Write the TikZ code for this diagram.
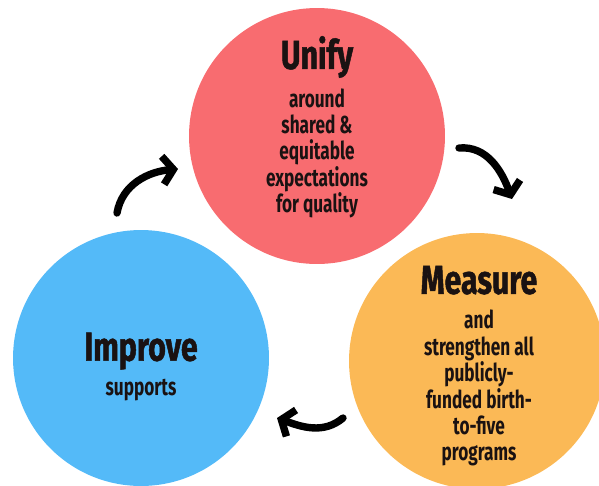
\documentclass[tikz,border=0pt]{standalone}
\usepackage{fontspec}
\usetikzlibrary{arrows.meta}
\newfontfamily\narrowfont{Fira Sans}[FakeStretch=0.7]
\newfontfamily\narrowtitlefont{Fira Sans}[FakeStretch=0.75,FakeBold=1.2]
\definecolor{unifyred}{HTML}{F86C70}
\definecolor{improveblue}{HTML}{54BAF8}
\definecolor{measureorange}{HTML}{FBB956}
\definecolor{inkdark}{HTML}{1A1212}
\newcommand{\bubbletitle}[1]{{\narrowtitlefont\bfseries\fontsize{23}{27}\selectfont #1}\\[5pt]}

\begin{document}
\begin{tikzpicture}[x=0.02cm,y=-0.02cm,
	bubble/.style={circle,inner sep=0,outer sep=0,minimum size=5.12cm},
	bubbletext/.style={align=center,inner sep=0,text=inkdark,
		font=\narrowfont\bfseries\fontsize{14}{15}\selectfont},
	cyclearrow/.style={line width=4.2pt,line cap=round,-{Straight Barb[length=6pt,width=16pt]}}]
	\useasboundingbox (0,0) rectangle (599,485);
	\node[bubble,fill=unifyred] (unify) at (317,136) {};
	\node[bubble,fill=measureorange] (measure) at (477,361) {};
	\node[bubble,fill=improveblue] (improve) at (141,358) {};
	\node[bubbletext] (unifytext) at (317,127) {\bubbletitle{Unify}around\\shared \&\\equitable\\expectations\\for quality};
	\node[bubbletext] (measuretext) at (479,366) {\bubbletitle{Measure}and\\strengthen all\\publicly-\\funded birth-\\to-five\\programs};
	\node[bubbletext] (improvetext) at (141,367) {\bubbletitle{Improve}supports};
	% arrows between the circles
	\coordinate (up1) at (117,213);
	\coordinate (up2) at (178,169);
	\coordinate (rt1) at (459,148);
	\coordinate (rt2) at (512,199);
	\coordinate (lo1) at (343,418);
	\coordinate (lo2) at (277,418);
	\draw[cyclearrow] (up1) to[out=80,in=185] (up2);
	\draw[cyclearrow] (rt1) to[out=5,in=110] (rt2);
	\draw[cyclearrow] (lo1) to[out=220,in=-20] (lo2);
\end{tikzpicture}
\end{document}
